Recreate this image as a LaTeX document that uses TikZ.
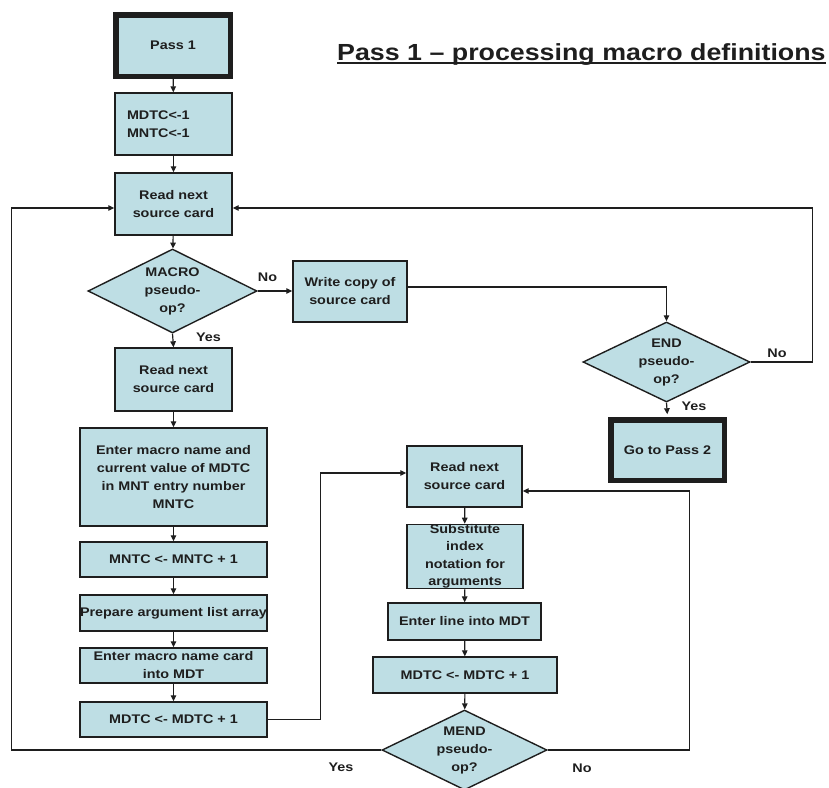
\documentclass[tikz,border=0pt]{standalone}
\usepackage{fontspec}
\newfontfamily\lsans{Liberation Sans}[FakeStretch=1.15]
\usetikzlibrary{shapes.geometric,arrows.meta}
\definecolor{boxfill}{RGB}{190,222,228}
\definecolor{ink}{RGB}{30,30,30}
\begin{document}
\begin{tikzpicture}[x=1pt,y=-1pt,
  every node/.style={font=\lsans\bfseries\fontsize{12.5}{18}\selectfont, text=ink},
  proc/.style={draw=ink, line width=1.4pt, fill=boxfill, rectangle, inner sep=0pt, align=center},
  term/.style={proc, line width=5.5pt},
  dec/.style={draw=ink, line width=1.4pt, fill=boxfill, diamond, shape aspect=2, inner sep=0pt, align=center},
  flow/.style={draw=ink, line width=1.2pt, -{Triangle[length=6pt,width=5.5pt]}},
  lbl/.style={inner sep=0pt}
]
\useasboundingbox (0,0) rectangle (829,787);

% title
\node[anchor=base west, inner sep=0pt, font=\lsans\bfseries\fontsize{23.3}{28}\selectfont] (title) at (337,60) {Pass 1 – processing macro definitions};
\draw[ink, line width=1.8pt] ([yshift=-3pt]title.base west) -- ([yshift=-3pt]title.base east);

% left column
\node[term, minimum width=114.5, minimum height=61.5] (pass1) at (173,45.5) {Pass 1};
\node[proc, minimum width=117, minimum height=62, text width=93, inner xsep=12pt, align=left] (init) at (173.5,124) {MDTC<-1\\MNTC<-1};
\node[proc, minimum width=117, minimum height=62] (read1) at (173.5,204) {Read next\\source card};
\node[dec, minimum width=169, minimum height=84] (macro) at (172.5,291) {MACRO\\pseudo-\\op?};
\node[proc, minimum width=114, minimum height=61] (write) at (350,291.5) {Write copy of\\source card};
\node[proc, minimum width=117, minimum height=63] (read2) at (173.5,379.5) {Read next\\source card};
\node[proc, minimum width=187, minimum height=98] (enter1) at (173.5,477) {Enter macro name and\\current value of MDTC\\in MNT entry number\\MNTC};
\node[proc, minimum width=187, minimum height=35] (mntc) at (173.5,559.5) {MNTC <- MNTC + 1};
\node[proc, minimum width=187, minimum height=36] (prep) at (173.5,613) {Prepare argument list array};
\node[proc, minimum width=187, minimum height=35] (entercard) at (173.5,665.5) {Enter macro name card\\into MDT};
\node[proc, minimum width=187, minimum height=35] (mdtc1) at (173.5,719.5) {MDTC <- MDTC + 1};

% right part
\node[dec, minimum width=167, minimum height=80] (endd) at (666.5,362) {END\\pseudo-\\op?};
\node[term, minimum width=113.5, minimum height=60.5] (pass2) at (667.5,450) {Go to Pass 2};

% middle column
\node[proc, minimum width=115, minimum height=61] (read3) at (464.5,476.5) {Read next\\source card};
\node[proc, minimum width=116, minimum height=63, font=\lsans\bfseries\fontsize{12.5}{17.5}\selectfont] (subst) at (465,556.5) {Substitute\\index\\notation for\\arguments};
\node[proc, minimum width=153, minimum height=37] (enterline) at (464.5,621.5) {Enter line into MDT};
\node[proc, minimum width=184, minimum height=36] (mdtc2) at (465,675) {MDTC <- MDTC + 1};
\node[dec, minimum width=165, minimum height=80] (mend) at (464.5,750) {MEND\\pseudo-\\op?};

% connectors
\draw[flow] (pass1) -- (init);
\draw[flow] (init) -- (read1);
\draw[flow] (read1) -- (macro);
\draw[flow] (macro.east) -- (macro.east -| write.west);
\draw[flow] (macro.south) -- (read2.north);
\draw[flow] ([yshift=4.5pt]write.east) -| (endd.north);
\draw[flow] (endd.east) -- ++(62,0) |- ([yshift=-4pt]read1.east);
\draw[flow, shorten >=2.75pt] (endd.south) -- (pass2.north);
\draw[flow] (read2) -- (enter1);
\draw[flow] (enter1) -- (mntc);
\draw[flow] (mntc) -- (prep);
\draw[flow] (prep) -- (entercard);
\draw[flow] (entercard) -- (mdtc1);
\draw[flow] (mdtc1.east) -- ++(53,0) |- ([yshift=3.5pt]read3.west);
\draw[flow] (read3) -- (subst);
\draw[flow] (subst) -- (enterline);
\draw[flow] (enterline) -- (mdtc2);
\draw[flow] (mdtc2) -- (mend);
\draw[flow] (mend.east) -- ++(142,0) |- ([yshift=-14.5pt]read3.east);
\draw[flow] (mend.west) -- ++(-370,0) |- ([yshift=-4pt]read1.west);

% labels
\node[lbl] (lno1) at (267.5,277) {No};
\node[lbl] (lyes1) at (208.5,337) {Yes};
\node[lbl] (lno2) at (777,353) {No};
\node[lbl] (lyes2) at (694,406) {Yes};
\node[lbl] (lyes3) at (341,767) {Yes};
\node[lbl] (lno3) at (582,768) {No};
\end{tikzpicture}
\end{document}
